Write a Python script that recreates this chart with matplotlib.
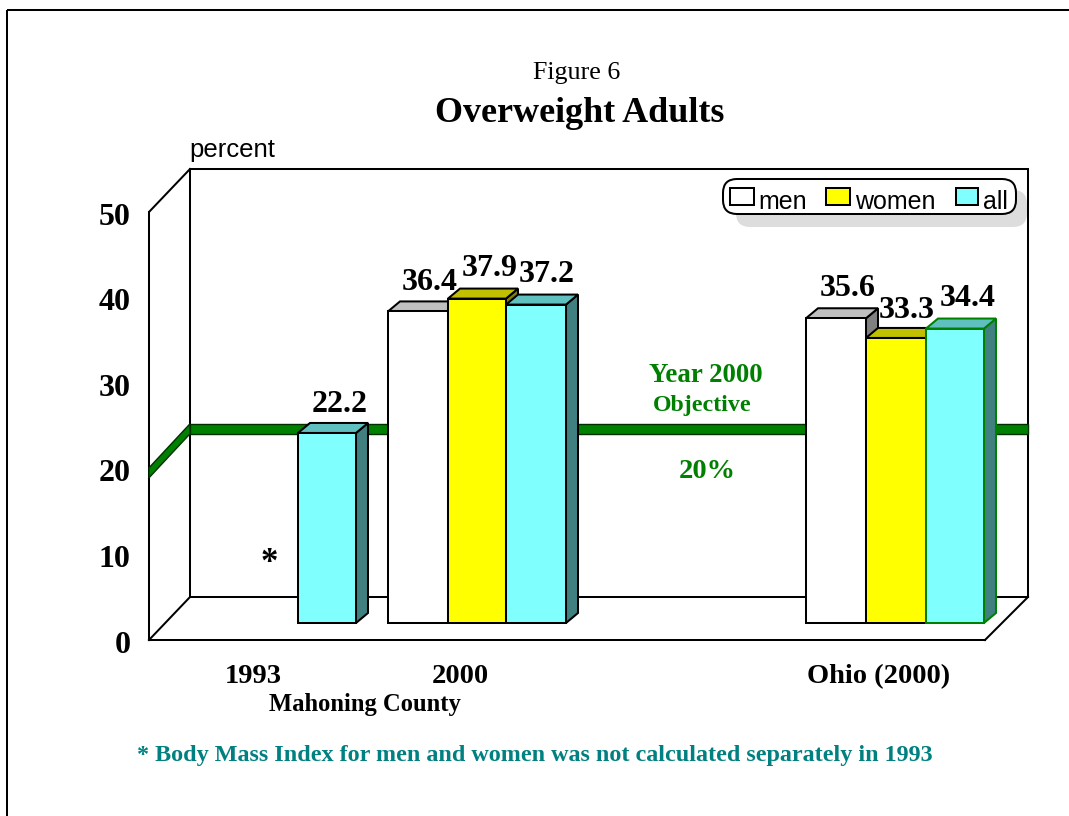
import matplotlib
matplotlib.use("Agg")
import matplotlib.pyplot as plt
from matplotlib.patches import Polygon, Rectangle, FancyBboxPatch
from matplotlib.transforms import Affine2D, ScaledTranslation

# ---- data ----
groups = ["1993", "2000", "Ohio (2000)"]
men = [None, 36.4, 35.6]
women = [None, 37.9, 33.3]
everyone = [22.2, 37.2, 34.4]
objective = 20
y_ticks = [0, 10, 20, 30, 40, 50]

# ---- layout ----
W, H = 1069, 816
SERIF = "Liberation Serif"
SANS = "Liberation Sans"
LW = 1.45
X0, X1, YTOP, YBOT = 149, 985, 212, 640
PX = (YBOT - YTOP) / 50          # pixels per percent
WALL_DXL, WALL_DXR, WALL_DY = 41, 43, 43 / PX   # depth of the chart box
BAR_DY = 17 / PX                 # bars stand forward of the back wall
TOP_DX, TOP_DY = 12, 10 / PX     # depth of one bar
group_x = [[None, None, 298], [388, 448, 506], [806, 866, 926]]
group_w = [[0, 0, 58], [60, 58, 60], [60, 60, 58]]
tick_x = [253, 460, 879]

fig = plt.figure(figsize=(W / 100, H / 100), dpi=100, facecolor="white")
ax = fig.add_axes([X0 / W, 1 - YBOT / H, (X1 - X0) / W, (YBOT - YTOP) / H])
ax.set_xlim(X0, X1)
ax.set_ylim(0, 50)
ax.patch.set_visible(False)
pix = Affine2D().scale(1, -1).translate(0, H)   # top-left pixel coordinates


def ptext(x, y, s, **kw):
    kw.setdefault("ha", "center")
    kw.setdefault("va", "center")
    kw.setdefault("family", SERIF)
    return fig.text(x, y, s, transform=pix, **kw)


# page border (runs off the right and bottom of the image)
fig.add_artist(Rectangle((7, 10), W + 20, H + 20, transform=pix, fill=False,
                         ec="black", lw=LW, clip_on=False))

# chart box
bx0, bx1 = X0 + WALL_DXL, X1 + WALL_DXR
ax.add_patch(Rectangle((bx0, WALL_DY), bx1 - bx0, 50, fill=False, ec="black",
                       lw=LW, clip_on=False, zorder=1))
ax.plot([X0, X0, bx0], [0, 50, 50 + WALL_DY], color="black", lw=LW,
        clip_on=False, zorder=1, solid_joinstyle="miter")
ax.plot([X0, bx0], [0, WALL_DY], color="black", lw=LW, clip_on=False, zorder=1)
ax.plot([X1, bx1], [0, WALL_DY], color="black", lw=LW, clip_on=False, zorder=1)

# objective band
band = 10 / PX
b_top = objective + WALL_DY + 2 / PX
f_top = objective + 1 / PX
ax.add_patch(Polygon([(bx0, b_top), (bx1, b_top), (bx1, b_top - band), (bx0, b_top - band)],
                     closed=True, fc="#008000", ec="#003000", lw=1.0, clip_on=False, zorder=2))
ax.add_patch(Polygon([(X0, f_top), (bx0, b_top), (bx0, b_top - band), (X0, f_top - band)],
                     closed=True, fc="#008000", ec="#003000", lw=1.0, clip_on=False, zorder=2))

styles = [
    ("#FFFFFF", "#C0C0C0", "#808080", "black"),
    ("#FFFF00", "#C0C000", "#808000", "black"),
    ("#80FFFF", "#60BFBF", "#408080", "black"),
]

z = 3
for g in range(len(groups)):
    for s, series in enumerate([men, women, everyone]):
        v = series[g]
        if v is None:
            continue
        x, w = group_x[g][s], group_w[g][s]
        front, top, side, edge = styles[s]
        if g == 2 and s == 2:
            edge = "#008000"
        y = BAR_DY + v
        ax.add_patch(Polygon([(x + w, BAR_DY), (x + w + TOP_DX, BAR_DY + TOP_DY),
                              (x + w + TOP_DX, y + TOP_DY), (x + w, y)], closed=True,
                             fc=side, ec=edge, lw=LW, clip_on=False, zorder=z))
        ax.add_patch(Polygon([(x, y), (x + w, y), (x + w + TOP_DX, y + TOP_DY), (x + TOP_DX, y + TOP_DY)],
                             closed=True, fc=top, ec=edge, lw=LW, clip_on=False, zorder=z))
        ax.bar(x, v, width=w, bottom=BAR_DY, align="edge", color=front, edgecolor=edge,
               linewidth=LW, clip_on=False, zorder=z + 0.5)
        z += 1

# axis
ax.spines["top"].set_visible(False)
ax.spines["right"].set_visible(False)
for sp in ("left", "bottom"):
    ax.spines[sp].set_linewidth(LW)
    ax.spines[sp].set_zorder(1)
ax.set_yticks(y_ticks)
ax.set_yticklabels([str(t) for t in y_ticks], family=SERIF, fontweight="bold", fontsize=23)
ax.tick_params(axis="y", length=0, pad=13.5)
nudge = ScaledTranslation(0, -1.2 / 72, fig.dpi_scale_trans)
for lab in ax.get_yticklabels():
    lab.set_transform(lab.get_transform() + nudge)
ax.set_xticks(tick_x)
ax.set_xticklabels(groups, family=SERIF, fontweight="bold", fontsize=20.5)
ax.tick_params(axis="x", length=0, pad=17.5)

# value labels
value_xy = {
    22.2: (340, 405), 36.4: (430, 282), 37.9: (490, 268), 37.2: (547, 274),
    35.6: (848, 288), 33.3: (907, 310), 34.4: (968, 298),
}
for v, (x, y) in value_xy.items():
    ptext(x, y, f"{v:.1f}", fontsize=23, fontweight="bold", color="black")

# titles and notes
ptext(577, 73, "Figure 6", fontsize=18.7)
ptext(580, 114, "Overweight Adults", fontsize=25.9, fontweight="bold")
ptext(232, 150, "percent", fontsize=18.5, family=SANS)
ptext(706, 375, "Year 2000", fontsize=19.4, fontweight="bold", color="#008000")
ptext(702, 406, "Objective", fontsize=17.2, fontweight="bold", color="#008000")
ptext(707, 472, "20%", fontsize=20.5, fontweight="bold", color="#008000")
ptext(269, 564, "*", fontsize=25, fontweight="bold")
ptext(365, 705, "Mahoning County", fontsize=17.7, fontweight="bold")
ptext(535, 756, "* Body Mass Index for men and women was not calculated separately in 1993",
      fontsize=17.4, fontweight="bold", color="#008080")

# legend
fig.add_artist(FancyBboxPatch((736, 190), 291, 37, boxstyle="round,pad=0,rounding_size=14",
                              transform=pix, fc="#DDDDDD", ec="none"))
fig.add_artist(FancyBboxPatch((723, 179), 293, 35, boxstyle="round,pad=0,rounding_size=14",
                              transform=pix, fc="white", ec="black", lw=LW))
legend_items = [("men", "#FFFFFF", 730, 24, 758), ("women", "#FFFF00", 826, 24, 855), ("all", "#80FFFF", 956, 22, 983)]
for name, color, sx, sw, tx in legend_items:
    fig.add_artist(Rectangle((sx, 188), sw, 17, transform=pix, fc=color, ec="black", lw=LW))
    ptext(tx, 209, name, ha="left", va="baseline", family=SANS, fontsize=18)

fig.savefig("out.png", dpi=100, facecolor="white")
